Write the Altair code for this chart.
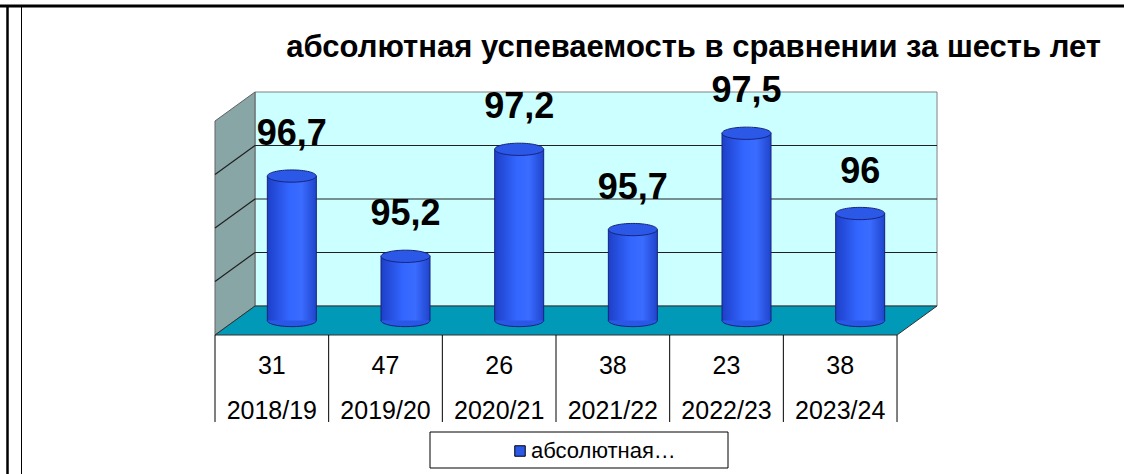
import altair as alt
import pandas as pd

# ---------------- data ----------------
years = ["2018/19", "2019/20", "2020/21", "2021/22", "2022/23", "2023/24"]
success = [96.7, 95.2, 97.2, 95.7, 97.5, 96.0]
counts = [31, 47, 26, 38, 23, 38]
series_name = "абсолютная успеваемость"
title_text = "абсолютная успеваемость в сравнении за шесть лет"
grid_values = [95, 96, 97]
Y_MIN, Y_MAX = 94, 98

# ---------------- layout (pixels) ----------------
W, H = 1124, 474
X0 = 215          # left front edge of the plot
CW = 113.67       # width of one category
Y0 = 335          # front floor edge
PX_PER_UNIT = 53.5
DEPTH_X, DEPTH_Y = 40, 29
BAR_W = 49
TABLE_BOTTOM = 422

n = len(years)
xdom = [-X0 / CW, (W - X0) / CW]
ydom = [Y_MIN - (H - Y0) / PX_PER_UNIT, Y_MIN + Y0 / PX_PER_UNIT]
dxu = DEPTH_X / CW
dyu = DEPTH_Y / PX_PER_UNIT
hw = BAR_W / 2 / CW

xs = alt.Scale(domain=xdom, nice=False, zero=False)
ys = alt.Scale(domain=ydom, nice=False, zero=False)


def X(f):
    return alt.X(f"{f}:Q", scale=xs, axis=None)


def Y(f):
    return alt.Y(f"{f}:Q", scale=ys, axis=None)


FONT = "Liberation Sans"

# ---------------- walls ----------------
back = pd.DataFrame([{"x": dxu, "x2": n + dxu, "y": Y_MIN + dyu, "y2": Y_MAX + dyu}])
back_wall = alt.Chart(back).mark_rect(fill="#ccffff", stroke="#808080", strokeWidth=1).encode(
    x=X("x"), x2="x2", y=Y("y"), y2="y2")

side = pd.DataFrame([
    {"x": 0, "y": Y_MIN, "y2": Y_MAX},
    {"x": dxu, "y": Y_MIN + dyu, "y2": Y_MAX + dyu},
])
side_wall = alt.Chart(side).mark_area(fill="#88a6a6", stroke="#606060", strokeWidth=1).encode(
    x=X("x"), y=Y("y"), y2="y2")

grid_back = alt.Chart(pd.DataFrame({"v": grid_values})).transform_calculate(
    x=f"{dxu}", x2=f"{n + dxu}", y=f"datum.v + {dyu}"
).mark_rule(color="#202020", strokeWidth=1.2).encode(x=X("x"), x2="x2", y=Y("y"))

grid_side = alt.Chart(pd.DataFrame({"v": grid_values})).transform_calculate(
    x="0", x2=f"{dxu}", y="datum.v", y2=f"datum.v + {dyu}"
).mark_rule(color="#202020", strokeWidth=1.2).encode(x=X("x"), x2="x2", y=Y("y"), y2="y2")

floor_df = pd.DataFrame([
    {"y": Y_MIN, "x": 0, "x2": n},
    {"y": Y_MIN + dyu, "x": dxu, "x2": n + dxu},
])
floor = alt.Chart(floor_df).mark_area(orient="horizontal", fill="#0099b8", stroke="#303030",
                                      strokeWidth=1).encode(y=Y("y"), x=X("x"), x2="x2")

# ---------------- bars (cylinders) ----------------
bars_df = pd.DataFrame({
    "year": years,
    "value": success,
    "idx": list(range(n)),
    "series": [series_name] * n,
})
bars_df["label"] = [f"{v:g}".replace(".", ",") for v in success]
bars_df["xc"] = bars_df["idx"] + 0.5 + dxu / 2
bars_df["xl"] = bars_df["xc"] - hw
bars_df["xr"] = bars_df["xc"] + hw
bars_df["yb"] = Y_MIN + dyu / 2
bars_df["yt"] = bars_df["value"] + dyu / 2

ELLIPSE = "M -1 0 A 1 0.25 0 1 1 1 0 A 1 0.25 0 1 1 -1 0 Z"
EDGE = "#16237a"

base = alt.Chart(bars_df)
bottom_ell = base.mark_point(shape=ELLIPSE, size=BAR_W ** 2, filled=True, fill="#2b57e6",
                             stroke=EDGE, strokeWidth=1, opacity=1).encode(x=X("xc"), y=Y("yb"))
body = base.mark_rect(
    fill=alt.Gradient(gradient="linear", x1=0, x2=1, y1=0, y2=0, stops=[
        alt.GradientStop(color="#1d3fc8", offset=0),
        alt.GradientStop(color="#3366ff", offset=0.45),
        alt.GradientStop(color="#3a6cff", offset=0.7),
        alt.GradientStop(color="#1f44cc", offset=1),
    ]),
    strokeWidth=0,
).encode(x=X("xl"), x2="xr", y=Y("yb"), y2="yt")
edge_l = base.mark_rule(color=EDGE, strokeWidth=1).encode(x=X("xl"), y=Y("yb"), y2="yt")
edge_r = base.mark_rule(color=EDGE, strokeWidth=1).encode(x=X("xr"), y=Y("yb"), y2="yt")
top_ell = base.mark_point(shape=ELLIPSE, size=BAR_W ** 2, filled=True, stroke=EDGE,
                          strokeWidth=1, opacity=1).encode(
    x=X("xc"), y=Y("yt"),
    color=alt.Color("series:N",
                    scale=alt.Scale(domain=[series_name], range=["#2c58e8"]),
                    legend=alt.Legend(orient="none", legendX=509, legendY=440, title=None,
                                      symbolType="square", symbolSize=110,
                                      symbolStrokeColor="#000000", symbolStrokeWidth=1,
                                      labelFont=FONT, labelFontSize=22, labelColor="#000000",
                                      labelExpr="split(datum.label, ' ')[0] + '…'",
                                      labelOffset=0, padding=0)),
)
labels = base.mark_text(font=FONT, fontSize=36, fontWeight="bold", color="#000000",
                        baseline="middle", dy=-42).encode(x=X("xc"), y=Y("yt"), text="label:N")

# ---------------- data table ----------------
tbl_df = pd.DataFrame({"xc": [i + 0.5 for i in range(n)], "count": counts, "year": years})
col_lines = alt.Chart(pd.DataFrame({"x": list(range(n + 1))})).mark_rule(
    color="#000000", strokeWidth=1).encode(x=X("x"), y=alt.value(Y0), y2=alt.value(TABLE_BOTTOM))
row_counts = alt.Chart(tbl_df).mark_text(font=FONT, fontSize=25, color="#000000").encode(
    x=X("xc"), y=alt.value(366), text="count:N")
row_years = alt.Chart(tbl_df).mark_text(font=FONT, fontSize=25, color="#000000").encode(
    x=X("xc"), y=alt.value(411), text="year:N")

# ---------------- legend box ----------------
legend_box = alt.Chart(pd.DataFrame({"k": [0]})).mark_rect(
    fill="#ffffff", stroke="#000000", strokeWidth=1).encode(
    x=alt.value(430), x2=alt.value(728), y=alt.value(432), y2=alt.value(468))

# ---------------- title ----------------
title = alt.Chart(pd.DataFrame({"t": [title_text]})).mark_text(
    font=FONT, fontSize=31, fontWeight="bold", color="#000000", align="right", baseline="middle"
).encode(x=alt.value(1101), y=alt.value(48), text="t:N")

# ---------------- page frame ----------------
frame_top = alt.Chart(pd.DataFrame({"k": [0]})).mark_rule(color="#000000", strokeWidth=3).encode(
    x=alt.value(0), x2=alt.value(W), y=alt.value(6))
frame_l1 = alt.Chart(pd.DataFrame({"k": [0]})).mark_rule(color="#000000", strokeWidth=2.5).encode(
    x=alt.value(7.5), y=alt.value(6), y2=alt.value(H))
frame_l2 = alt.Chart(pd.DataFrame({"k": [0]})).mark_rule(color="#000000", strokeWidth=1).encode(
    x=alt.value(21.5), y=alt.value(6), y2=alt.value(H))

chart = alt.layer(
    back_wall, side_wall, grid_back, grid_side, floor,
    bottom_ell, body, edge_l, edge_r, top_ell, labels,
    col_lines, row_counts, row_years, legend_box, title,
    frame_top, frame_l1, frame_l2,
).properties(
    width=W, height=H, autosize=alt.AutoSizeParams(type="none"), padding=0,
    background="#ffffff",
).configure_view(strokeWidth=0)

chart.save("out.html", embed_options={"renderer": "svg", "actions": False})
